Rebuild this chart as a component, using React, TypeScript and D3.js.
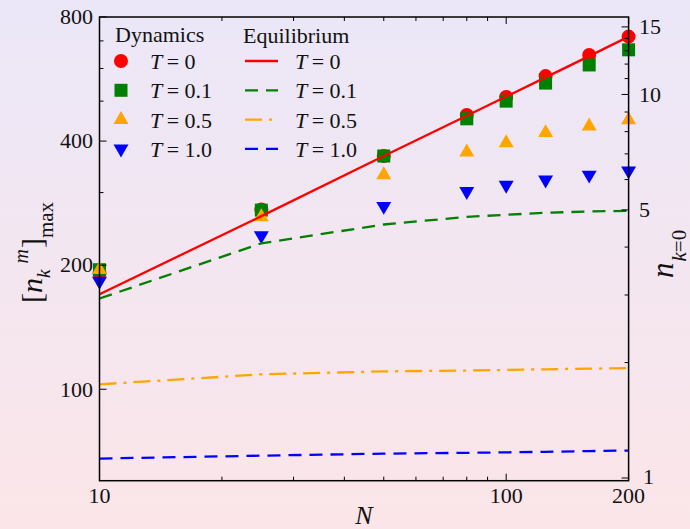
import React from "react";
import * as d3 from "d3";

// ---- data ----
const N = [10, 25, 50, 80, 100, 125, 160, 200];
const dynT0 = [191, 273, 368, 463, 512, 575, 647, 717];
const dynT01 = [195, 272, 368, 453, 500, 553, 612, 666];
const dynT05 = [195, 262, 331, 376, 396, 419, 435, 450];
const dynT10 = [183, 236, 278, 302, 313, 322, 331, 339];

const eqT0 = [170, 263, 368, 461, 513, 571, 643, 717];
const eqT01 = [166, 226, 251, 262, 265, 268, 270, 271];
const eqT05 = [102.8, 108.7, 110.5, 111.0, 111.4, 111.8, 112.2, 112.5];
const eqT10 = [67.9, 69.0, 69.8, 70.1, 70.3, 70.5, 70.8, 71.0];

const tLabels = ["0", "0.1", "0.5", "1.0"];
const colors = ["#ff0000", "#008000", "#ffa500", "#0000ff"];
const dashes = ["none", "13,8", "17,7,3,7", "13,8"];

const xMajor = [10, 100, 200];
const xMinor = [20, 30, 40, 50, 60, 70, 80, 90];
const yLeftMajor = [100, 200, 400, 800];
const yLeftMinor = [300, 500, 600, 700];
const yRightMajor = [1, 5, 10, 15];
const yRightMinor = [2, 3, 4, 6, 7, 8, 9, 11, 12, 13, 14];

const W = 690, H = 529;
const L = 99.5, R = 628.6, T = 17, B = 480.7;

const x = d3.scaleLog().domain([10, 200]).range([L, R]);
const y = d3.scaleLog().domain([60, 800]).range([B, T]);
const yR = d3.scaleLog().domain([0.984, 15.92]).range([B, T]);

const FONT = "'Liberation Serif', 'DejaVu Serif', serif";

const dynSeries = [dynT0, dynT01, dynT05, dynT10];
const eqSeries = [eqT0, eqT01, eqT05, eqT10];

const sym = [
  d3.symbol().type(d3.symbolCircle).size(154)(),
  d3.symbol().type(d3.symbolSquare).size(169)(),
  d3.symbol().type(d3.symbolTriangle).size(97)(),
  d3.symbol().type(d3.symbolTriangle).size(97)(),
];
const symRot = [0, 0, 0, 180];

const line = d3
  .line<number>()
  .x((_, i) => x(N[i]))
  .y((d) => y(d));

function Marker({ k, cx, cy }: { k: number; cx: number; cy: number }) {
  return (
    <path
      d={sym[k] as string}
      transform={`translate(${cx},${cy}) rotate(${symRot[k]})`}
      fill={colors[k]}
    />
  );
}

function TLabel({ px, py, v }: { px: number; py: number; v: string }) {
  return (
    <text x={px} y={py} fontSize={22} fontFamily={FONT} fill="#111">
      <tspan fontStyle="italic">T</tspan>
      <tspan>{"\u2009= " + v}</tspan>
    </text>
  );
}

export default function App() {
  const rows = [0, 1, 2, 3];
  const rowY = (i: number) => 61 + i * 29.3;
  return (
    <svg
      width={W}
      height={H}
      style={{ position: "fixed", left: 0, top: 0, display: "block" }}
    >
      <defs>
        <linearGradient id="bg" x1="0" y1="0" x2="0" y2="1">
          <stop offset="0" stopColor="#ebe7f8" />
          <stop offset="1" stopColor="#fbe5e8" />
        </linearGradient>
        <clipPath id="clip">
          <rect x={L} y={T} width={R - L} height={B - T} />
        </clipPath>
      </defs>
      <rect x={0} y={0} width={W} height={H} fill="url(#bg)" />

      {/* markers */}
      <g>
        {dynSeries.map((s, k) =>
          s.map((v, i) => <Marker key={`${k}-${i}`} k={k} cx={x(N[i])} cy={y(v)} />)
        )}
      </g>

      {/* equilibrium lines */}
      <g clipPath="url(#clip)">
        {eqSeries.map((s, k) => (
          <path
            key={k}
            d={line(s) as string}
            fill="none"
            stroke={colors[k]}
            strokeWidth={2.3}
            strokeDasharray={dashes[k]}
          />
        ))}
      </g>

      {/* frame */}
      <rect x={L} y={T} width={R - L} height={B - T} fill="none" stroke="#000" strokeWidth={1.5} />

      {/* ticks */}
      <g stroke="#000" strokeWidth={1}>
        {xMinor.map((v) => (
          <g key={v}>
            <line x1={x(v)} x2={x(v)} y1={B} y2={B - 4} />
            <line x1={x(v)} x2={x(v)} y1={T} y2={T + 4} />
          </g>
        ))}
        {xMajor.map((v) => (
          <g key={v}>
            <line x1={x(v)} x2={x(v)} y1={B} y2={B - 7} />
            <line x1={x(v)} x2={x(v)} y1={T} y2={T + 7} />
          </g>
        ))}
        {yLeftMinor.map((v) => (
          <line key={v} x1={L} x2={L + 4} y1={y(v)} y2={y(v)} />
        ))}
        {yLeftMajor.map((v) => (
          <line key={v} x1={L} x2={L + 7} y1={y(v)} y2={y(v)} />
        ))}
        {yRightMinor.map((v) => (
          <line key={v} x1={R} x2={R - 4} y1={yR(v)} y2={yR(v)} />
        ))}
        {yRightMajor.map((v) => (
          <line key={v} x1={R} x2={R - 7} y1={yR(v)} y2={yR(v)} />
        ))}
      </g>

      {/* tick labels */}
      <g fontFamily={FONT} fontSize={22} fill="#111">
        {xMajor.map((v) => (
          <text key={v} x={x(v)} y={503} textAnchor="middle">
            {v}
          </text>
        ))}
        {yLeftMajor.map((v) => (
          <text key={v} x={93} y={y(v)} dy="0.33em" textAnchor="end">
            {v}
          </text>
        ))}
        {yRightMajor.map((v) => (
          <text key={v} x={v === 1 ? 643 : 639} y={v === 1 ? yR(v) - 1 : yR(v)} dy="0.33em" textAnchor="start">
            {v}
          </text>
        ))}
      </g>

      {/* axis titles */}
      <text x={364} y={524} textAnchor="middle" fontFamily={FONT} fontSize={26} fontStyle="italic" fill="#111">
        N
      </text>
      <text transform="translate(42,303) rotate(-90)" fontFamily={FONT} fill="#111">
        <tspan fontSize={30}>[</tspan>
        <tspan fontSize={30} fontStyle="italic">n</tspan>
        <tspan fontSize={19} fontStyle="italic" dy={8}>k</tspan>
        <tspan fontSize={20} fontStyle="italic" dy={-22} dx={6}>m</tspan>
        <tspan fontSize={30} dy={14} dx={1}>]</tspan>
        <tspan fontSize={21} dy={11}>max</tspan>
      </text>
      <text transform="translate(673,278) rotate(-90)" fontFamily={FONT} fill="#111">
        <tspan fontSize={31} fontStyle="italic">n</tspan>
        <tspan fontSize={21} dy={13} dx={1}>
          <tspan fontStyle="italic">k</tspan>=0
        </tspan>
      </text>

      {/* legend */}
      <text x={115} y={42} fontFamily={FONT} fontSize={22} fill="#111">Dynamics</text>
      <text x={243} y={43} fontFamily={FONT} fontSize={22} fill="#111">Equilibrium</text>
      {rows.map((i) => (
        <g key={i}>
          <Marker k={i} cx={121} cy={rowY(i)} />
          <TLabel px={150} py={rowY(i) + 8} v={tLabels[i]} />
          <line
            x1={245}
            x2={278}
            y1={rowY(i)}
            y2={rowY(i)}
            stroke={colors[i]}
            strokeWidth={2.3}
            strokeDasharray={dashes[i]}
          />
          <TLabel px={295} py={rowY(i) + 8} v={tLabels[i]} />
        </g>
      ))}
    </svg>
  );
}
